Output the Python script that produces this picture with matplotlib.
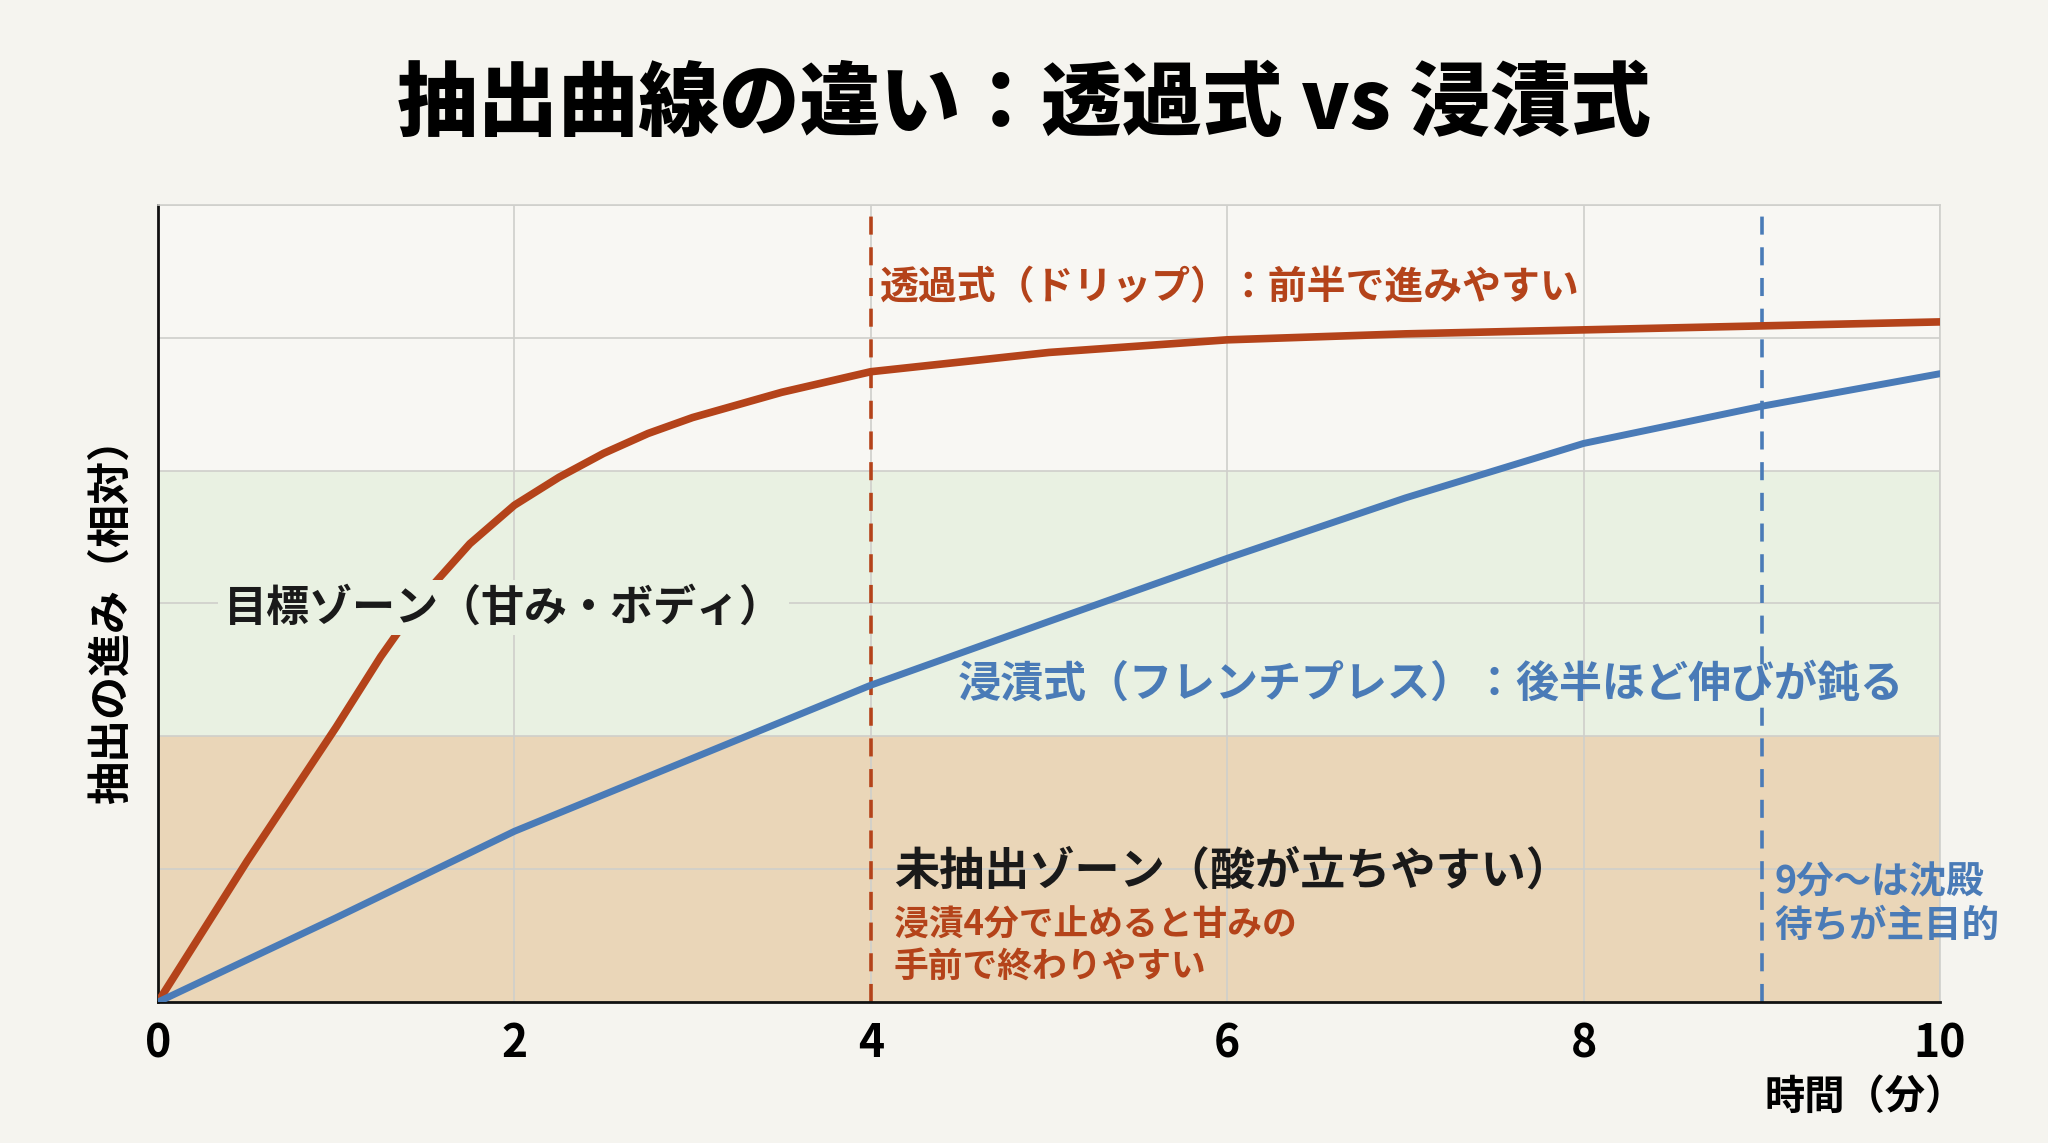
import matplotlib
matplotlib.use('Agg')
import matplotlib.pyplot as plt
import numpy as np

plt.rcParams['font.family'] = ['Noto Sans CJK JP', 'DejaVu Sans']

# data
drip_t = [0, 0.5, 1.0, 1.25, 1.5, 1.75, 2.0, 2.25, 2.5, 2.75, 3.0, 3.5, 4, 5, 6, 7, 8, 9, 10]
drip = [0, 0.212, 0.414, 0.52, 0.615, 0.69, 0.748, 0.79, 0.826, 0.856, 0.88, 0.918, 0.949,
        0.978, 0.997, 1.006, 1.012, 1.018, 1.024]
immersion_t = [0, 1, 2, 3, 4, 5, 6, 7, 8, 9, 10]
immersion = [0, 0.127, 0.257, 0.367, 0.477, 0.573, 0.668, 0.759, 0.841, 0.897, 0.946]
zone_under = (0, 0.4)
zone_target = (0.4, 0.8)
marker_times = [4, 9]
xticks = [0, 2, 4, 6, 8, 10]

RED = '#b4431a'
BLUE = '#4a7bb7'
BG = '#f5f4ef'

fig = plt.figure(figsize=(20.48, 11.43), dpi=100, facecolor=BG)
ax = fig.add_axes([158 / 2048, 1 - 1002 / 1143, (1940 - 158) / 2048, (1002 - 205) / 1143])
ax.set_facecolor('#f8f7f3')
ax.set_xlim(0, 10)
ax.set_ylim(0, 1.2)

# zones
ax.axhspan(*zone_under, color='#ead6b8', zorder=0, lw=0)
ax.axhspan(*zone_target, color='#e9f1e2', zorder=0, lw=0)

# grid
for gx in xticks[1:]:
    ax.axvline(gx, color='#cfcfcb', lw=1.2, zorder=1)
for gy in np.arange(0.2, 1.21, 0.2):
    ax.axhline(gy, color='#cfcfcb', lw=1.2, zorder=1)

# markers
ax.axvline(marker_times[0], color=RED, lw=2.6, ls=(0, (5, 3.5)), zorder=2)
ax.axvline(marker_times[1], color=BLUE, lw=2.6, ls=(0, (5, 3.5)), zorder=2)

# curves
ax.plot(drip_t, drip, color=RED, lw=5.5, zorder=3, solid_capstyle='round', solid_joinstyle='round')
ax.plot(immersion_t, immersion, color=BLUE, lw=5.0, zorder=3, solid_capstyle='round',
        solid_joinstyle='round')

# spines and ticks
for s in ['top', 'right']:
    ax.spines[s].set_color('#cfcfcb')
    ax.spines[s].set_linewidth(1.2)
for s in ['left', 'bottom']:
    ax.spines[s].set_color('#111111')
    ax.spines[s].set_linewidth(2)
ax.set_xticks(xticks)
ax.set_xticklabels([str(v) for v in xticks], fontsize=32, fontweight='bold')
ax.set_yticks([])
ax.tick_params(axis='x', length=0, pad=14)

# annotations
ax.text(4.05, 1.076, '透過式（ドリップ）：前半で進みやすい', color=RED, fontsize=28,
        fontweight='bold', va='center', zorder=4)
ax.text(0.37, 0.594, '目標ゾーン（甘み・ボディ）', color='#1a1a1a', fontsize=31,
        fontweight='bold', va='center', zorder=4,
        bbox=dict(facecolor='#e9f1e2', edgecolor='none', pad=4))
ax.text(4.49, 0.48, '浸漬式（フレンチプレス）：後半ほど伸びが鈍る', color=BLUE, fontsize=31,
        fontweight='bold', va='center', zorder=4)
ax.text(4.13, 0.197, '未抽出ゾーン（酸が立ちやすい）', color='#1a1a1a', fontsize=32.5,
        fontweight='bold', va='center', zorder=4)
ax.text(4.13, 0.085, '浸漬4分で止めると甘みの\n手前で終わりやすい', color=RED, fontsize=25,
        fontweight='bold', va='center', linespacing=1.2, zorder=4)
ax.text(9.07, 0.1485, '9分〜は沈殿\n待ちが主目的', color=BLUE, fontsize=27,
        fontweight='bold', va='center', linespacing=1.15, zorder=4)

# title and axis labels
fig.text(0.5, 1 - 105 / 1143, '抽出曲線の違い：透過式 vs 浸漬式', fontsize=58,
         fontweight='heavy', ha='center', va='center')
fig.text(1966 / 2048, 1 - 1097 / 1143, '時間（分）', fontsize=29, fontweight='bold',
         ha='right', va='center')
fig.text(111 / 2048, 1 - 611 / 1143, '抽出の進み（相対）', fontsize=31, fontweight='bold',
         ha='center', va='center', rotation=90)

fig.savefig('out.png', dpi=100, facecolor=BG)
